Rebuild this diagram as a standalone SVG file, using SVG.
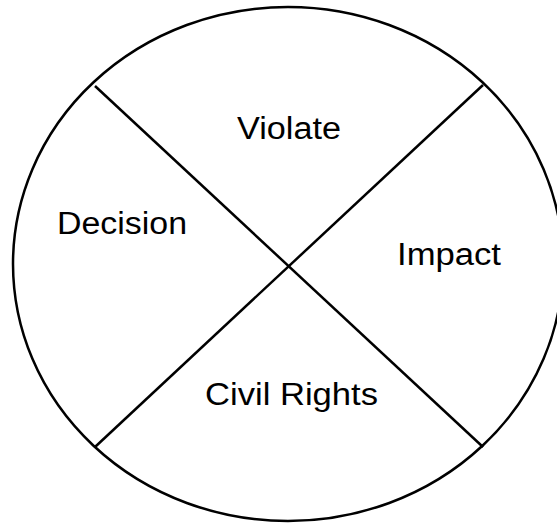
<svg xmlns="http://www.w3.org/2000/svg" width="557" height="523" viewBox="0 0 557 523">
<style>
.shape{fill:none;stroke:#000;stroke-width:2.5}
.lbl{font-family:"Liberation Sans",Arial,sans-serif;font-size:31px;fill:#000}
</style>
<rect width="557" height="523" fill="#fff"/>
<g id="circle"><ellipse class="shape" cx="288" cy="264" rx="275" ry="257"/></g>
<g id="connectors">
<line class="shape" x1="95" y1="86" x2="483" y2="447"/>
<line class="shape" x1="483" y1="85" x2="95" y2="447"/>
</g>
<g id="violate"><text class="lbl" x="237" y="139" textLength="104" lengthAdjust="spacingAndGlyphs">Violate</text></g>
<g id="decision"><text class="lbl" x="57" y="234" textLength="130" lengthAdjust="spacingAndGlyphs">Decision</text></g>
<g id="impact"><text class="lbl" x="397" y="265" textLength="104" lengthAdjust="spacingAndGlyphs">Impact</text></g>
<g id="civil"><text class="lbl" x="205" y="405" textLength="173" lengthAdjust="spacingAndGlyphs">Civil Rights</text></g>
</svg>
